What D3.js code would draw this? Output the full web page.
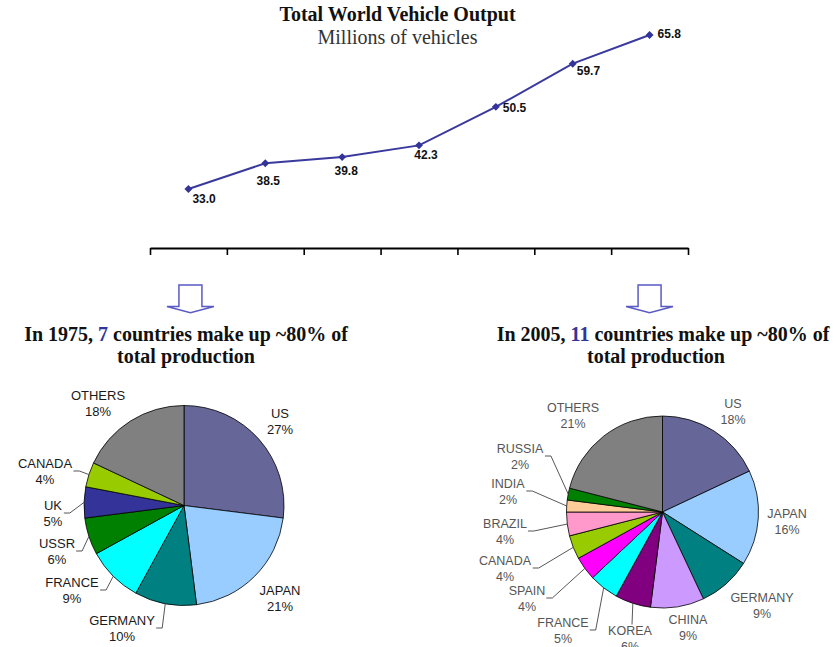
<!DOCTYPE html>
<html>
<head>
<meta charset="utf-8">
<script src="https://cdn.jsdelivr.net/npm/d3@7"></script>
<style>
  html, body { margin: 0; padding: 0; background: #fff; }
  svg { display: block; }
</style>
</head>
<body>
<svg id="chart" width="837" height="647"></svg>
<script>
// ---------- DATA ----------
const years = ["1975", "1980", "1985", "1990", "1995", "2000", "2005"];
const worldOutput = [33.0, 38.5, 39.8, 42.3, 50.5, 59.7, 65.8];

const countries1975 = ["US", "JAPAN", "GERMANY", "FRANCE", "USSR", "UK", "CANADA", "OTHERS"];
const shares1975 = [27, 21, 10, 9, 6, 5, 4, 18];

const countries2005 = ["US", "JAPAN", "GERMANY", "CHINA", "KOREA", "FRANCE", "SPAIN", "CANADA", "BRAZIL", "INDIA", "RUSSIA", "OTHERS"];
const shares2005 = [18, 16, 9, 9, 6, 5, 4, 4, 4, 2, 2, 21];

const countryColors = {
  US: "#666699", JAPAN: "#99ccff", GERMANY: "#008080", FRANCE: "#00ffff",
  USSR: "#008000", UK: "#333399", CANADA: "#99cc00", OTHERS: "#808080",
  CHINA: "#cc99ff", KOREA: "#800080", SPAIN: "#ff00ff", BRAZIL: "#ff99cc",
  INDIA: "#ffcc99", RUSSIA: "#008000"
};

// ---------- LAYOUT ----------
const svg = d3.select("#chart");
const W = 837, H = 647;
const serif = "'Liberation Serif', 'Times New Roman', serif";
const sans = "'Liberation Sans', Arial, sans-serif";

// line-label offsets relative to point [dx, dy, anchor]
const lineLabelOffsets = [[4, 14, "start"], [3, 22, "middle"], [4, 18, "middle"], [7, 14, "middle"], [7, 5.5, "start"], [4, 11, "start"], [8, 3, "start"]];

// pie label positions (center of first line) and leader style
const labels1975 = {
  US: [280, 413], JAPAN: [280, 590], GERMANY: [122, 620, "side"], FRANCE: [72, 582, "side"],
  USSR: [57, 543, "side"], UK: [53, 505, "side"], CANADA: [45, 463, "side"], OTHERS: [98, 395]
};
const labels2005 = {
  US: [733, 403], JAPAN: [787, 513], GERMANY: [762, 597], CHINA: [688, 619],
  KOREA: [630, 630, "top"], FRANCE: [563, 622, "side"], SPAIN: [527, 590, "side"],
  CANADA: [505, 560, "side"], BRAZIL: [505, 523, "side"], INDIA: [508, 483, "side"],
  RUSSIA: [520, 448, "side"], OTHERS: [573, 407]
};

// ---------- TITLE ----------
svg.append("text").attr("x", 397.5).attr("y", 21).attr("text-anchor", "middle")
  .attr("font-family", serif).attr("font-weight", "bold").attr("font-size", 20).attr("fill", "#111")
  .text("Total World Vehicle Output");
svg.append("text").attr("x", 397.5).attr("y", 44).attr("text-anchor", "middle")
  .attr("font-family", serif).attr("font-size", 20).attr("fill", "#333")
  .text("Millions of vehicles");

// ---------- LINE CHART ----------
const axisLeft = 150, axisRight = 688, axisY = 248;
const x = d3.scaleBand().domain(years).range([axisLeft, axisRight]);
const xEdges = d3.scaleLinear().domain([0, years.length]).range([axisLeft, axisRight]);
const y = d3.scaleLinear().domain([0, 70]).range([344, 15.3]);

const axisG = svg.append("g").attr("transform", `translate(0,${axisY})`)
  .call(d3.axisBottom(xEdges).tickValues(d3.range(0, years.length + 1)).tickSize(7).tickSizeOuter(0).tickFormat(""));
axisG.select(".domain").attr("stroke", "#000").attr("stroke-width", 2.2);
axisG.selectAll(".tick line").attr("stroke", "#000").attr("stroke-width", 1.6);

const pts = years.map((yr, i) => ({ yr, v: worldOutput[i], cx: x(yr) + x.bandwidth() / 2, cy: y(worldOutput[i]), off: lineLabelOffsets[i] }));

svg.append("path").datum(pts)
  .attr("d", d3.line().x(d => d.cx).y(d => d.cy))
  .attr("fill", "none").attr("stroke", "#3a3a9e").attr("stroke-width", 2);

svg.selectAll(".mk").data(pts).enter().append("path")
  .attr("transform", d => `translate(${d.cx},${d.cy})`)
  .attr("d", d3.symbol(d3.symbolDiamond2 || d3.symbolDiamond, 40)())
  .attr("fill", "#333399");

svg.selectAll(".vl").data(pts).enter().append("text")
  .attr("x", d => d.cx + d.off[0]).attr("y", d => d.cy + d.off[1])
  .attr("text-anchor", d => d.off[2])
  .attr("font-family", sans).attr("font-weight", "bold").attr("font-size", 12).attr("fill", "#111")
  .text(d => d.v.toFixed(1));

// ---------- ARROWS ----------
function arrow(cx) {
  const top = 285, shaftBot = 306.5, tip = 312.7, sw = 11.5, hw = 23.5;
  const p = d3.path();
  p.moveTo(cx - sw, top); p.lineTo(cx + sw, top); p.lineTo(cx + sw, shaftBot);
  p.lineTo(cx + hw, shaftBot); p.lineTo(cx, tip); p.lineTo(cx - hw, shaftBot);
  p.lineTo(cx - sw, shaftBot); p.closePath();
  svg.append("path").attr("d", p.toString()).attr("fill", "#fff")
    .attr("stroke", "#5a5ac4").attr("stroke-width", 1.5).attr("stroke-linejoin", "miter");
}
arrow(x(years[0]) + x.bandwidth() / 2 + 2);
arrow(x(years[years.length - 1]) + x.bandwidth() / 2);

// ---------- PIE HEADINGS ----------
function heading(cx1, cx2, year, count) {
  const t = svg.append("text").attr("x", cx1).attr("y", 341).attr("text-anchor", "middle")
    .attr("font-family", serif).attr("font-weight", "bold").attr("font-size", 20).attr("fill", "#111");
  t.append("tspan").text(`In ${year}, `);
  t.append("tspan").attr("fill", "#333399").text(count);
  t.append("tspan").text(" countries make up ~80% of");
  svg.append("text").attr("x", cx2).attr("y", 363).attr("text-anchor", "middle")
    .attr("font-family", serif).attr("font-weight", "bold").attr("font-size", 20).attr("fill", "#111")
    .text("total production");
}
heading(186, 186, "1975", "7");
heading(663, 656, "2005", "11");

// ---------- PIES ----------
function drawPie(names, shares, cx, cy, r, labelPos, fontSize, textColor) {
  const data = names.map((n, i) => ({ name: n, value: shares[i] }));
  const arcs = d3.pie().value(d => d.value).sort(null)(data);
  const arc = d3.arc().innerRadius(0).outerRadius(r);
  const g = svg.append("g").attr("transform", `translate(${cx},${cy})`);
  g.selectAll("path").data(arcs).enter().append("path")
    .attr("d", arc).attr("fill", d => countryColors[d.data.name])
    .attr("stroke", "#000").attr("stroke-width", 0.8);

  arcs.forEach(a => {
    const lp = labelPos[a.data.name];
    const t = svg.append("text").attr("text-anchor", "middle")
      .attr("font-family", sans).attr("font-size", fontSize).attr("fill", textColor);
    t.append("tspan").attr("x", lp[0]).attr("y", lp[1] + fontSize * 0.36).text(a.data.name);
    t.append("tspan").attr("x", lp[0]).attr("y", lp[1] + 16 + fontSize * 0.36).text(a.data.value + "%");
    if (lp[2]) {
      const bb = t.node().getBBox();
      const mid = (a.startAngle + a.endAngle) / 2;
      const ex = cx + r * Math.sin(mid), ey = cy - r * Math.cos(mid);
      let pts;
      if (lp[2] === "top") {
        pts = [[lp[0] + 2, bb.y + 1], [ex, ey]];
      } else {
        const ax = bb.x + bb.width + 1, ay = lp[1] + 8;
        pts = [[ax, ay], [ax + 6, ay], [ex, ey]];
      }
      svg.append("path").attr("d", d3.line()(pts)).attr("fill", "none")
        .attr("stroke", "#444").attr("stroke-width", 0.9);
    }
  });
}
drawPie(countries1975, shares1975, 184, 505.5, 100, labels1975, 13, "#1a1a1a");
drawPie(countries2005, shares2005, 662.5, 512, 96, labels2005, 12.5, "#555");
</script>
</body>
</html>
